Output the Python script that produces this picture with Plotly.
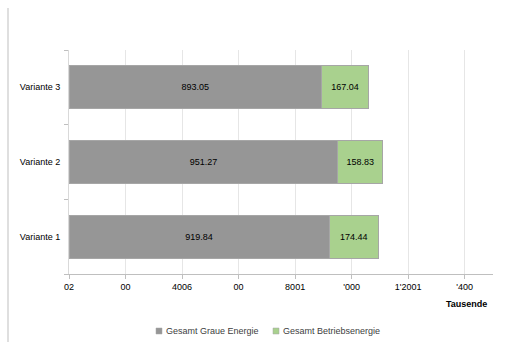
import plotly.graph_objects as go

categories = ["Variante 1", "Variante 2", "Variante 3"]
graue_energie = [919.84, 951.27, 893.05]
betriebsenergie = [174.44, 158.83, 167.04]
tick_values = [0, 200, 400, 600, 800, 1000, 1200, 1400]
tick_labels = ["02", "00", "4006", "00", "8001", "'000", "1'2001", "'400"]
series_names = ["Gesamt Graue Energie", "Gesamt Betriebsenergie"]
series_colors = ["#969696", "#a9d18e"]

FONT = "Liberation Sans"
W, H = 510, 342
ML, MR, MT, MB = 69, 17, 50, 68
PW, PH = W - ML - MR, H - MT - MB


def px(x):
    return (x - ML) / PW


def py(y):
    return (H - MB - y) / PH


fig = go.Figure()
for name, vals, col in zip(series_names, [graue_energie, betriebsenergie], series_colors):
    fig.add_trace(go.Bar(
        y=categories, x=vals, orientation="h", name=name, showlegend=False,
        marker=dict(color=col, line=dict(color="#a6a6a6", width=1)),
        text=[f"{v:.2f}" for v in vals], textposition="inside",
        insidetextanchor="middle", textfont=dict(color="#000000", size=9, family=FONT),
    ))

fig.update_layout(
    width=W, height=H,
    barmode="stack", bargap=0.42,
    margin=dict(l=ML, r=MR, t=MT, b=MB),
    paper_bgcolor="white", plot_bgcolor="white",
    font=dict(family=FONT, size=9, color="#000000"),
    showlegend=False,
    uniformtext=dict(minsize=9, mode="show"),
)
fig.update_xaxes(
    range=[0, 1500], tickvals=tick_values, ticktext=tick_labels,
    showgrid=True, gridcolor="#e6e6e6", gridwidth=1,
    showline=True, linecolor="#bfbfbf", linewidth=1,
    ticks="outside", ticklen=4, tickcolor="#bfbfbf", automargin=False,
    tickfont=dict(size=9, color="#000000"), zeroline=False, fixedrange=True,
)
fig.update_yaxes(
    showgrid=False, showline=True, linecolor="#d9d9d9", linewidth=1,
    ticks="outside", ticklen=4, tickcolor="#bfbfbf", tickson="boundaries",
    automargin=False, fixedrange=True,
    tickfont=dict(size=9, color="#000000"), ticklabelstandoff=6,
)
fig.add_annotation(text="<b>Tausende</b>", xref="paper", yref="paper",
                   x=px(489), y=py(304), xanchor="right", yanchor="middle",
                   showarrow=False, font=dict(size=9, color="#000000"))
fig.add_shape(type="line", xref="paper", yref="paper",
              x0=px(8), x1=px(8), y0=py(8), y1=py(342),
              line=dict(color="#bfbfbf", width=1))

# manual legend
legend_sq_x = [156, 273]
for name, col, sx in zip(series_names, series_colors, legend_sq_x):
    fig.add_shape(type="rect", xref="paper", yref="paper",
                  x0=px(sx), x1=px(sx + 6), y0=py(334), y1=py(328),
                  fillcolor=col, line=dict(color="#a6a6a6", width=0.5))
    fig.add_annotation(text=name, xref="paper", yref="paper",
                       x=px(sx + 8), y=py(331), xanchor="left", yanchor="middle",
                       showarrow=False, font=dict(size=9, color="#404040"))

fig.write_html("out.html", config={"displayModeBar": False},
               post_script="document.body.style.margin='0';")
